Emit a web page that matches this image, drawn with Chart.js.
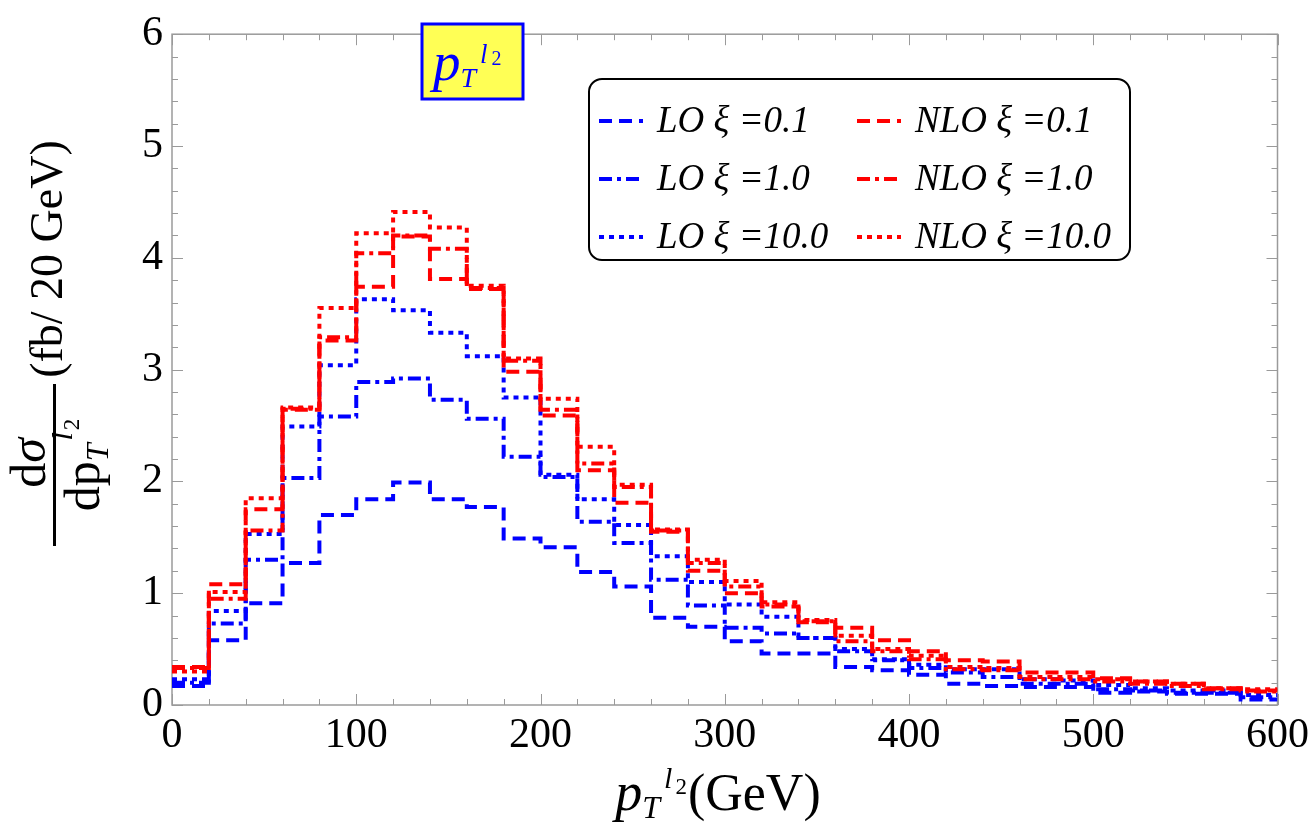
<!DOCTYPE html>
<html>
<head>
<meta charset="utf-8">
<title>pT l2 distribution</title>
<script src="https://cdn.jsdelivr.net/npm/chart.js@4.4.1/dist/chart.umd.min.js"></script>
<style>
  html, body { margin: 0; padding: 0; background: #fff; }
  #wrap { width: 1315px; height: 830px; position: relative; }
</style>
</head>
<body>
<div id="wrap"><canvas id="ptChart"></canvas></div>
<script>
// Bin lower edges (GeV), 20 GeV bins up to 600
const binEdges = [0, 20, 40, 60, 80, 100, 120, 140, 160, 180, 200, 220, 240, 260, 280,
                  300, 320, 340, 360, 380, 400, 420, 440, 460, 480, 500, 520, 540, 560, 580, 600];

// dsigma/dpT (fb / 20 GeV), one value per bin
const loXi01 = [0.17, 0.58, 0.91, 1.27, 1.70, 1.84, 1.99, 1.84, 1.77, 1.49, 1.41, 1.19, 1.06, 0.78, 0.70,
                0.57, 0.46, 0.46, 0.34, 0.31, 0.27, 0.19, 0.17, 0.16, 0.16, 0.11, 0.12, 0.10, 0.10, 0.05];
const loXi1 = [0.20, 0.73, 1.30, 2.03, 2.58, 2.89, 2.92, 2.73, 2.56, 2.22, 2.04, 1.64, 1.45, 1.12, 0.89,
               0.69, 0.64, 0.60, 0.48, 0.40, 0.33, 0.29, 0.25, 0.19, 0.19, 0.14, 0.13, 0.11, 0.11, 0.07];
const loXi10 = [0.23, 0.84, 1.53, 2.49, 3.04, 3.63, 3.53, 3.33, 3.12, 2.75, 2.06, 1.84, 1.61, 1.33, 1.10,
                0.90, 0.79, 0.60, 0.50, 0.41, 0.36, 0.32, 0.32, 0.23, 0.22, 0.18, 0.15, 0.13, 0.13, 0.09];
const nloXi01 = [0.34, 1.08, 1.75, 2.64, 3.26, 3.74, 4.19, 3.81, 3.72, 2.98, 2.59, 2.10, 1.81, 1.55, 1.20,
                 1.00, 0.88, 0.74, 0.69, 0.58, 0.48, 0.40, 0.39, 0.29, 0.29, 0.24, 0.21, 0.19, 0.15, 0.13];
const nloXi1 = [0.33, 0.95, 1.56, 2.65, 3.29, 4.04, 4.20, 4.08, 3.73, 3.08, 2.64, 2.16, 1.95, 1.56, 1.27,
                1.06, 0.90, 0.75, 0.57, 0.48, 0.41, 0.32, 0.31, 0.23, 0.23, 0.21, 0.19, 0.17, 0.14, 0.12];
const nloXi10 = [0.30, 1.01, 1.85, 2.66, 3.55, 4.22, 4.41, 4.27, 3.75, 3.10, 2.74, 2.31, 1.97, 1.57, 1.30,
                 1.11, 0.92, 0.76, 0.62, 0.50, 0.44, 0.34, 0.33, 0.25, 0.25, 0.23, 0.21, 0.19, 0.15, 0.14];

const xTicks = [0, 100, 200, 300, 400, 500, 600];
const yTicks = [0, 1, 2, 3, 4, 5, 6];

const BLUE = '#0000ff';
const RED = '#ff0000';
const DASHED = [13, 7];
const DASHDOT = [13, 5, 4, 5];
const DOTTED = [5, 5];

const SERIF = "'Liberation Serif', 'Times New Roman', Tinos, serif";

// turn per-bin values into step points (left edge + closing point at last edge)
function toSteps(values) {
    const pts = values.map((v, i) => ({ x: binEdges[i], y: v }));
    pts.push({ x: binEdges[values.length], y: values[values.length - 1] });
    return pts;
}

function makeSet(label, values, color, dash, order) {
    return {
        label: label,
        data: toSteps(values),
        borderColor: color,
        borderDash: dash,
        borderWidth: 4,
        pointRadius: 0,
        fill: false,
        stepped: 'before',
        order: order
    };
}

// draw a run of text pieces; each piece {t, font, dy, dx}
function drawRuns(ctx, runs, x, y) {
    let cx = x;
    runs.forEach(r => {
        ctx.font = r.font;
        ctx.fillText(r.t, cx + (r.dx || 0), y + (r.dy || 0));
        cx += ctx.measureText(r.t).width + (r.dx || 0);
    });
    return cx - x;
}

function runsWidth(ctx, runs) {
    let w = 0;
    runs.forEach(r => { ctx.font = r.font; w += ctx.measureText(r.t).width + (r.dx || 0); });
    return w;
}

const framePlugin = {
    id: 'frame',
    beforeDatasetsDraw(chart) {
        const ctx = chart.ctx;
        const a = chart.chartArea;
        const xs = chart.scales.x, ys = chart.scales.y;
        ctx.save();
        ctx.strokeStyle = '#9a9a9a';
        ctx.lineWidth = 1.5;
        ctx.strokeRect(a.left, a.top, a.right - a.left, a.bottom - a.top);
        ctx.lineWidth = 1;
        // x ticks, major every 100, minor every 20, bottom and top
        for (let v = 0; v <= 600; v += 20) {
            const px = Math.round(xs.getPixelForValue(v)) + 0.5;
            const len = v % 100 === 0 ? 11 : 6;
            ctx.beginPath();
            ctx.moveTo(px, a.bottom); ctx.lineTo(px, a.bottom - len);
            ctx.moveTo(px, a.top); ctx.lineTo(px, a.top + len);
            ctx.stroke();
        }
        // y ticks, major every 1, minor every 0.2, left and right
        for (let k = 0; k <= 30; k++) {
            const py = Math.round(ys.getPixelForValue(k * 0.2)) + 0.5;
            const len = k % 5 === 0 ? 11 : 6;
            ctx.beginPath();
            ctx.moveTo(a.left, py); ctx.lineTo(a.left + len, py);
            ctx.moveTo(a.right, py); ctx.lineTo(a.right - len, py);
            ctx.stroke();
        }
        ctx.restore();
    },
    afterDraw(chart) {
        const ctx = chart.ctx;
        ctx.save();
        ctx.fillStyle = '#000';
        ctx.textBaseline = 'alphabetic';

        // x axis title: p_T^{l_2}(GeV)
        const xRuns = [
            { t: 'p', font: 'italic 54px ' + SERIF },
            { t: 'T', font: 'italic 32px ' + SERIF, dy: 8 },
            { t: 'l', font: 'italic 30px ' + SERIF, dy: -22, dx: 4 },
            { t: '2', font: '23px ' + SERIF, dy: -16, dx: 3 },
            { t: '(GeV)', font: '52px ' + SERIF, dx: 1 }
        ];
        const xw = runsWidth(ctx, xRuns);
        drawRuns(ctx, xRuns, 718 - xw / 2, 810);

        // y axis title, rotated
        ctx.save();
        ctx.rotate(-Math.PI / 2);
        const num = [
            { t: 'd', font: '50px ' + SERIF },
            { t: '\u03c3', font: 'italic 50px ' + SERIF }
        ];
        const nw = runsWidth(ctx, num);
        drawRuns(ctx, num, -463 - nw / 2, 45);
        ctx.fillRect(-546, 53, 162, 3);
        const den = [
            { t: 'dp', font: '50px ' + SERIF },
            { t: 'T', font: 'italic 32px ' + SERIF, dy: 9 },
            { t: 'l', font: 'italic 30px ' + SERIF, dy: -27, dx: 3 },
            { t: '2', font: '23px ' + SERIF, dy: -20, dx: 2 }
        ];
        const dw = runsWidth(ctx, den);
        drawRuns(ctx, den, -465 - dw / 2, 99);
        ctx.font = '46px ' + SERIF;
        const unit = '(fb/ 20 GeV)';
        const uw = ctx.measureText(unit).width;
        ctx.fillText(unit, -259 - uw / 2, 62);
        ctx.restore();

        // label box p_T^{l_2}
        ctx.fillStyle = '#ffff55';
        ctx.fillRect(422, 24, 101, 75);
        ctx.strokeStyle = BLUE;
        ctx.lineWidth = 3;
        ctx.strokeRect(422, 24, 101, 75);
        ctx.fillStyle = BLUE;
        drawRuns(ctx, [
            { t: 'p', font: 'italic 55px ' + SERIF },
            { t: 'T', font: 'italic 28px ' + SERIF, dy: 7 },
            { t: 'l', font: 'italic 27px ' + SERIF, dy: -17, dx: 4 },
            { t: '2', font: '20px ' + SERIF, dy: -15, dx: 4 }
        ], 433, 80);

        // legend
        const lx = 589, ly = 79, lw = 541, lh = 181, r = 13;
        ctx.fillStyle = '#fff';
        ctx.strokeStyle = '#000';
        ctx.lineWidth = 2;
        ctx.beginPath();
        ctx.roundRect(lx, ly, lw, lh, r);
        ctx.fill();
        ctx.stroke();
        const rows = [119, 177, 235];
        const cols = [{ sx: 599, tx: 657 }, { sx: 857, tx: 915 }];
        chart.data.datasets.forEach((ds, i) => {
            const col = cols[Math.floor(i / 3)];
            const row = rows[i % 3];
            ctx.save();
            ctx.strokeStyle = ds.borderColor;
            ctx.lineWidth = 4;
            ctx.setLineDash(ds.borderDash);
            ctx.beginPath();
            ctx.moveTo(col.sx, row + 2);
            ctx.lineTo(col.sx + 44, row + 2);
            ctx.stroke();
            ctx.restore();
            ctx.fillStyle = '#000';
            ctx.font = 'italic 37px ' + SERIF;
            ctx.fillText(ds.label, col.tx, row + 13);
        });
        ctx.restore();
    }
};

function buildChart() {
    const canvas = document.getElementById('ptChart');
    new Chart(canvas, {
        type: 'line',
        data: {
            datasets: [
                makeSet('LO \u03be =0.1', loXi01, BLUE, DASHED, 2),
                makeSet('LO \u03be =1.0', loXi1, BLUE, DASHDOT, 2),
                makeSet('LO \u03be =10.0', loXi10, BLUE, DOTTED, 2),
                makeSet('NLO \u03be =0.1', nloXi01, RED, DASHED, 1),
                makeSet('NLO \u03be =1.0', nloXi1, RED, DASHDOT, 1),
                makeSet('NLO \u03be =10.0', nloXi10, RED, DOTTED, 1)
            ]
        },
        options: {
            responsive: true,
            maintainAspectRatio: false,
            animation: false,
            layout: { padding: { left: 0, right: 32, top: 18, bottom: 0 } },
            plugins: {
                legend: { display: false },
                tooltip: { enabled: false }
            },
            scales: {
                x: {
                    type: 'linear',
                    min: 0,
                    max: 600,
                    afterFit: s => { s.height = 125; },
                    afterBuildTicks: s => { s.ticks = xTicks.map(v => ({ value: v })); },
                    grid: { display: false, drawTicks: false },
                    border: { display: false },
                    ticks: {
                        padding: 6,
                        color: '#000',
                        maxRotation: 0,
                        font: { family: SERIF, size: 42 }
                    }
                },
                y: {
                    type: 'linear',
                    min: 0,
                    max: 6,
                    afterFit: s => { s.width = 172; },
                    afterBuildTicks: s => { s.ticks = yTicks.map(v => ({ value: v })); },
                    grid: { display: false, drawTicks: false },
                    border: { display: false },
                    ticks: {
                        padding: 9,
                        color: '#000',
                        font: { family: SERIF, size: 42 }
                    }
                }
            }
        },
        plugins: [framePlugin]
    });
}

Promise.all([
    document.fonts.load('42px "Liberation Serif"'),
    document.fonts.load('italic 42px "Liberation Serif"')
]).then(buildChart, buildChart);
</script>
</body>
</html>
